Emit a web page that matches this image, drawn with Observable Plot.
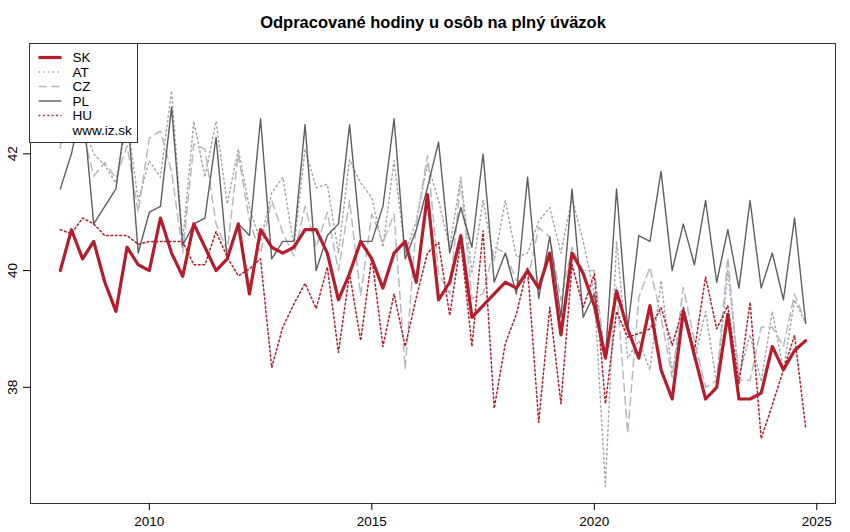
<!DOCTYPE html>
<html><head><meta charset="utf-8">
<script src="https://cdn.jsdelivr.net/npm/d3@7"></script>
<script src="https://cdn.jsdelivr.net/npm/@observablehq/plot@0.6"></script>
<style>
body{margin:0;background:#fff;font-family:"Liberation Sans",Arial,Helvetica,sans-serif;}
#wrap{position:relative;width:850px;height:532px;}
#legend{position:absolute;left:29px;top:43px;width:109px;height:100px;background:#fff;border:1px solid #333;box-sizing:border-box;}
#legend svg{position:absolute;left:-1px;top:-1px;}
</style></head><body><div id="wrap"><div id="legend"></div></div>
<script>
const title = "Odpracované hodiny u osôb na plný úväzok";
const years = [2008,2009,2010,2011,2012,2013,2014,2015,2016,2017,2018,2019,2020,2021,2022,2023,2024];
const quarters = [1,2,3,4];
const xTicks = [2010,2015,2020,2025];
const yTicks = [38,40,42];

const SK = [40.0,40.7,40.2,40.5,39.8,39.3,40.4,40.1,40.0,40.9,
40.3,39.9,40.8,40.4,40.0,40.2,40.8,39.6,40.7,40.4,
40.3,40.4,40.7,40.7,40.3,39.5,39.95,40.5,40.2,39.7,
40.3,40.5,39.8,41.3,39.5,39.8,40.6,39.2,39.4,39.6,
39.8,39.7,40.0,39.7,40.3,38.9,40.3,39.95,39.4,38.5,
39.65,39.0,38.5,39.4,38.3,37.8,39.3,38.55,37.8,38.0,
39.25,37.8,37.8,37.9,38.7,38.3,38.63,38.8];
const AT = [42.1,42.7,42.5,42.0,41.8,41.5,42.6,41.2,41.88,41.6,
43.08,40.5,42.56,41.6,42.56,41.14,42.08,41.08,40.5,41.33,
41.6,40.4,42.08,41.42,41.48,40.3,41.9,41.5,41.25,40.4,
41.88,40.3,40.85,41.83,41.2,40.4,41.6,39.95,41.2,40.17,
41.2,40.23,40.3,40.85,41.08,40.3,41.25,40.5,39.6,36.3,
40.5,38.5,38.8,38.3,39.83,38.23,39.37,38.46,39.3,38.06,
40.0,38.2,38.9,38.1,39.3,38.3,39.5,39.1];
const CZ = [42.15,42.6,42.4,41.62,41.85,41.58,42.14,41.0,42.27,42.39,
41.7,40.3,42.17,42.08,40.8,40.34,42.0,40.85,40.3,41.2,
40.65,40.25,41.1,40.4,41.0,40.0,41.2,39.57,40.97,40.48,
40.97,38.32,40.8,41.97,39.95,39.6,41.55,39.52,39.6,40.4,
40.3,39.83,39.83,40.74,40.57,39.49,40.4,40.0,40.0,38.5,
39.71,37.21,39.54,40.06,39.2,38.17,39.71,38.8,38.0,38.12,
40.23,38.12,38.12,39.03,39.03,38.7,39.6,39.1];
const PL = [41.4,42.0,42.9,40.8,41.1,41.4,42.8,40.3,41.0,41.1,
42.8,40.43,40.8,40.9,42.28,40.2,40.8,40.6,42.6,40.2,
40.5,40.5,42.5,40.0,40.6,40.8,42.5,40.5,40.5,41.1,
42.6,40.2,40.7,41.42,42.2,40.3,41.08,40.4,42.0,39.8,
40.3,39.6,41.6,39.52,40.58,39.2,41.4,39.2,39.6,38.5,
41.4,39.0,40.6,40.5,41.7,40.0,40.8,40.1,41.2,39.8,
40.7,39.7,41.2,39.7,40.3,39.5,40.9,39.1];
const HU = [40.7,40.63,40.9,40.8,40.6,40.6,40.6,40.45,40.5,40.5,
40.5,40.5,40.1,40.1,40.67,40.23,39.91,40.03,40.2,38.34,
39.03,39.43,39.78,39.35,40.06,38.6,39.95,38.8,40.23,38.7,
39.6,38.7,39.54,40.3,40.48,39.23,40.5,38.7,40.68,37.64,
38.75,39.26,40.06,37.4,39.37,37.72,40.1,39.37,39.94,37.72,
39.3,38.86,38.92,39.0,39.37,38.72,39.37,38.63,39.89,39.0,
39.4,38.06,39.46,37.12,37.7,38.3,38.89,37.3];

const times = years.flatMap(y => quarters.map(q => y + (q - 1) / 4));
const toRows = vals => vals.map((v, i) => ({t: times[i], v}));

const RED = "#b71c2b";
const styles = [
  {name:"SK", vals:SK, stroke:RED, width:3.2, dash:null},
  {name:"AT", vals:AT, stroke:"#a2a6ad", width:1.5, dash:"1.5,3.2"},
  {name:"CZ", vals:CZ, stroke:"#b3bac3", width:1.5, dash:"8,5"},
  {name:"PL", vals:PL, stroke:"#5f5f5f", width:1.4, dash:null},
  {name:"HU", vals:HU, stroke:RED, width:1.5, dash:"1.8,2.6"}
];
const drawOrder = ["AT","CZ","PL","HU","SK"];

const marks = [];
for (const n of drawOrder) {
  const s = styles.find(d => d.name === n);
  marks.push(Plot.line(toRows(s.vals), {x:"t", y:"v", stroke:s.stroke, strokeWidth:s.width,
    strokeDasharray:s.dash ?? undefined, strokeLinejoin:"round"}));
}

const chart = Plot.plot({
  width: 850, height: 532,
  marginLeft: 30, marginRight: 15, marginTop: 43, marginBottom: 29,
  style: {fontFamily: "Liberation Sans, Arial, Helvetica, sans-serif", fontSize: "13.5px", background: "#fff", color: "#000"},
  x: {domain: [2007.33, 2025.42]},
  y: {domain: [36.01, 43.89]},
  marks: [
    ...marks,
    Plot.frame({stroke: "#333"}),
    Plot.axisX({ticks: xTicks, tickFormat: d => String(d), tickSize: 7, tickPadding: 6, fontSize: 13.5, label: null}),
    Plot.axisY({ticks: yTicks, tickFormat: () => "", tickSize: 7, label: null}),
    Plot.text(yTicks, {y: d => d, text: d => String(d), frameAnchor: "left", dx: -18, rotate: -90,
      textAnchor: "middle", lineAnchor: "middle", fontSize: 13.5}),
    Plot.text([title], {frameAnchor: "top", dy: -21, lineAnchor: "middle", fontSize: 16.5, fontWeight: "bold"})
  ]
});
document.getElementById("wrap").prepend(chart);

// legend
const lg = d3.select("#legend").append("svg").attr("width", 110).attr("height", 101)
  .style("font-family", "Liberation Sans, Arial, Helvetica, sans-serif").style("font-size", "13.5px");
const rows = ["SK","AT","CZ","PL","HU","www.iz.sk"];
rows.forEach((r, i) => {
  const y = 14.5 + i * 14.5;
  const s = styles.find(d => d.name === r);
  if (s) {
    lg.append("line").attr("x1", 9.5).attr("x2", 32.5).attr("y1", y).attr("y2", y)
      .attr("stroke", s.stroke).attr("stroke-width", s.width)
      .attr("stroke-dasharray", s.dash);
  }
  lg.append("text").attr("x", 43.5).attr("y", y).attr("dy", "0.36em").text(r);
});
</script></body></html>
